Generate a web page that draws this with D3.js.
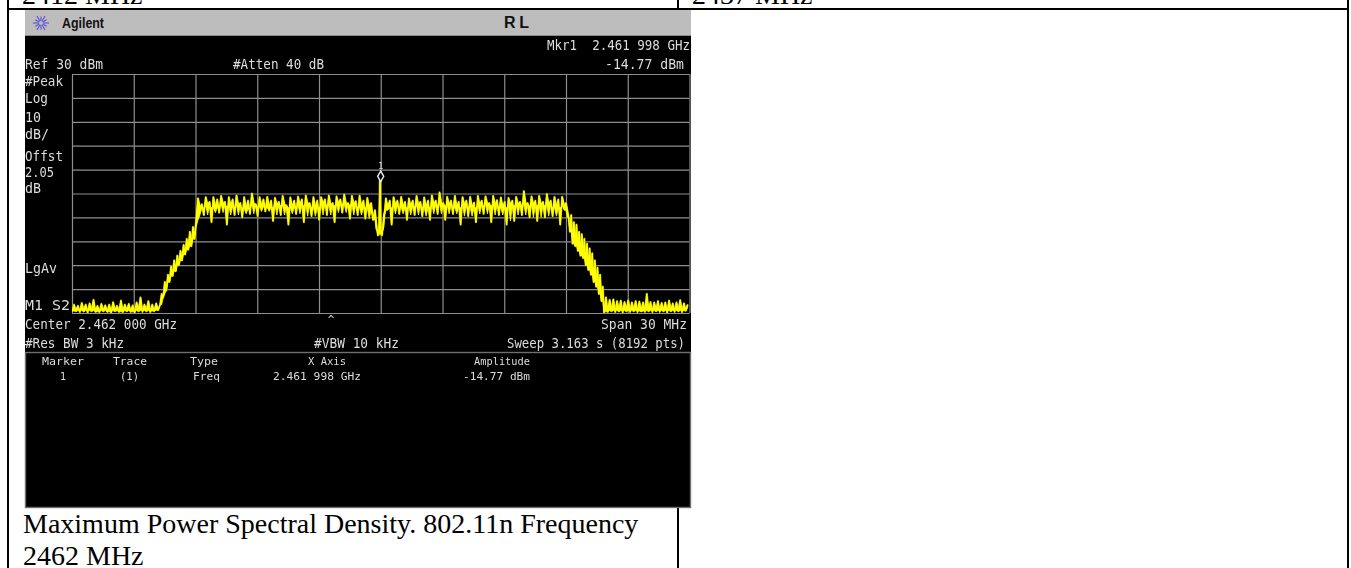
<!DOCTYPE html>
<html>
<head>
<meta charset="utf-8">
<script src="https://cdn.jsdelivr.net/npm/d3@7"></script>
<style>
html,body{margin:0;padding:0;background:#fff;overflow:hidden}
svg{display:block}
.m{font-family:"DejaVu Sans Mono",monospace;fill:#dcdcdc;filter:blur(0.25px)}
.c{font-family:"Liberation Serif",serif;fill:#000}
</style>
</head>
<body>
<script>
const freqTicks=[2447,2450,2453,2456,2459,2462,2465,2468,2471,2474,2477];
const dbTicks=[30,20,10,0,-10,-20,-30,-40,-50,-60,-70];
const markerFreq=2461.998, markerLevel=-12.8;

const floorLeft=[-69.5,-66.5,-69,-67,-69.6,-65.8,-69,-66.5,-69.8,-66,-69,-64.5,-69.5,-67,-69.6,-66.2,-69,-66.8,-69.5,-66.5,-69.8,-65.5,-69,-67,-69.5,-64.8,-69.6,-66.5,-69,-66.2,-69.5,-66.8,-69.8,-65.6,-69,-63.5,-69.5,-66.5,-69,-65,-69.6,-66.5,-69.2,-66,-68.8];
const skirtLeft=[-66.5,-62,-63.5,-57,-60.5,-54,-57,-50.5,-54.5,-48,-52.5,-46,-50,-44,-48,-41.5,-45.5,-39,-43.5,-36,-42,-34,-39];
const plateauLeft=[-31,-22,-26,-24.5,-29,-21.5,-25,-23.5,-32,-21.5,-26,-22.5,-28,-21,-24.5,-23.5,-33,-21.5,-25.5,-22.5,-29,-20.8,-25,-24,-30,-21.5,-26.5,-23,-28.5,-20,-24.5,-24.5,-29.5,-21.5,-25.5,-22.5,-27.5,-21.4,-26,-23,-31.5,-21.8,-25,-23.5,-29,-21,-24.8,-25,-33,-21.6,-26,-23,-28.5,-21.3,-25,-22.5,-32,-20.8,-24.5,-24,-29.5,-21.5,-26,-23,-31,-21.5,-24.5,-22.5,-29,-20.8,-25,-24,-32,-21.2,-24.5,-22.5,-28,-20.4,-24.5,-24,-30.5,-21,-24.8,-23.2,-29,-20.9,-26,-23,-30.5,-21.8,-26,-24,-31];
const notch=[-27,-31,-35,-37.5,-35.5,-13,-35.5,-37.5,-34,-29,-27];
const plateauRight=[-22,-26,-23,-33,-21.5,-25,-23,-28.5,-21.4,-26,-23.5,-31,-22,-25.5,-23,-29,-21,-25,-23.5,-29.5,-21.6,-26,-23,-31,-20.8,-24.8,-23,-28.5,-19.5,-24.5,-24,-31,-21.4,-25,-23,-28.5,-21,-26,-23.5,-33,-21.5,-25,-23,-29.5,-21.4,-26,-23.8,-32,-21,-25,-23,-28.5,-21.2,-24.6,-24,-32,-21,-25,-22.8,-29,-21.6,-26,-23.5,-33,-21.8,-25,-23,-31.5,-21.4,-24.8,-23.5,-29,-19,-24.5,-24,-30,-21.2,-25,-23,-31.5,-21,-25,-23.5,-30,-20.2,-25,-23,-29.5,-21.4,-26,-22.5,-33,-21.4,-25];
const skirtRight=[-24,-27,-30,-36,-29,-41,-32,-42,-33,-44,-36,-46,-37,-47,-39,-50,-41,-52,-43,-54,-45,-57,-48,-59,-51,-62,-54,-65,-59];
const floorRight=[-69.8,-63.5,-69.5,-64.5,-69,-64.3,-69.6,-65,-69,-64.8,-69.8,-65.4,-69,-64.6,-69.5,-65.6,-69,-65,-69.6,-65.2,-69.2,-65.6,-69.5,-62,-69,-65.4,-69.6,-65.6,-69,-65,-69.5,-65.8,-69,-65.6,-69.8,-64.8,-69,-66,-69.5,-65.6,-69,-64.6,-69.6,-66,-69,-66.5];
const traceSegments=[floorLeft,skirtLeft,plateauLeft,notch,plateauRight,skirtRight,floorRight];
const segmentEdges=[2447,2451.28,2453.03,2461.72,2462.25,2471.0,2472.85,2477];

const headerLabels=["Agilent","R L"];
const screenLabels=["Mkr1  2.461 998 GHz","-14.77 dBm","Ref 30 dBm","#Atten 40 dB","#Peak","Log","10","dB/","Offst","2.05","dB","LgAv","M1 S2","Center 2.462 000 GHz","Span 30 MHz","#Res BW 3 kHz","#VBW 10 kHz","Sweep 3.163 s (8192 pts)"];
const screenX=[547,605,25,233,25,25,25,25,25,25,25,25,25,25,601,25,314,507];
const screenEnd=[690,684,103,324,63,48,41,49,63,54,41,57,70,177,687,124,399,685];
const screenBase=[50,69,69,69,86,103,122,139,161,177,193,273,310,329,329,348,348,348];
const tableLabels=["Marker","Trace","Type","X Axis","Amplitude","1","(1)","Freq","2.461 998 GHz","-14.77 dBm"];
const tableX=[42,113,190,308,474,60,120,193,273,463];
const tableEnd=[84,147,218,346,530,66,139,220,361,530];
const tableBase=[365,365,365,365,365,380,380,380,380,380];
const captionLines=["Maximum Power Spectral Density. 802.11n Frequency","2462 MHz"];
const clippedCells=["2412 MHz","2437 MHz"];

const W=1351,H=568;
const svg=d3.select("body").append("svg").attr("width",W).attr("height",H);
svg.append("rect").attr("width",W).attr("height",H).attr("fill","#fff");

const x=d3.scaleLinear().domain([2447,2477]).range([72,689.5]);
const y=d3.scaleLinear().domain([30,-70]).range([74,313]);

svg.append("g").selectAll("text").data(clippedCells).join("text").attr("class","c")
  .attr("x",(d,i)=>i?692:22).attr("y",4).attr("font-size",28).text(d=>d);
const tbl=svg.append("g").attr("stroke","#000").attr("stroke-width",2);
tbl.append("line").attr("x1",7).attr("x2",1349).attr("y1",9).attr("y2",9);
tbl.append("line").attr("x1",8).attr("x2",8).attr("y1",0).attr("y2",H);
tbl.append("line").attr("x1",678).attr("x2",678).attr("y1",0).attr("y2",9);
tbl.append("line").attr("x1",678).attr("x2",678).attr("y1",508).attr("y2",H);
tbl.append("line").attr("x1",1348).attr("x2",1348).attr("y1",0).attr("y2",H);

svg.append("rect").attr("x",25).attr("y",10).attr("width",666).attr("height",498).attr("fill","#000");
svg.append("rect").attr("x",25).attr("y",10).attr("width",666).attr("height",25).attr("fill","#bdbdbd");
svg.append("line").attr("x1",25).attr("x2",691).attr("y1",35.5).attr("y2",35.5).attr("stroke","#8a8a8a");
svg.append("rect").attr("x",25.5).attr("y",352.5).attr("width",665).attr("height",155).attr("fill","none").attr("stroke","#6f6f6f").attr("stroke-width",1.4);

const spark=svg.append("g").attr("transform","translate(41,23)").attr("stroke","#5a50d8").attr("stroke-width",1.1);
d3.range(0,180,30).forEach(a=>{
  const r=a%60===0?8:6.5, t=a*Math.PI/180;
  spark.append("line").attr("x1",-r*Math.cos(t)).attr("y1",-r*Math.sin(t)).attr("x2",r*Math.cos(t)).attr("y2",r*Math.sin(t));
});
svg.append("circle").attr("cx",41).attr("cy",23).attr("r",2).attr("fill","#bdbdbd");

svg.append("text").attr("x",62).attr("y",28).attr("font-family","Liberation Sans").attr("font-weight","bold").attr("font-size",15).attr("fill","#111")
  .attr("textLength",42).attr("lengthAdjust","spacingAndGlyphs").text(headerLabels[0]);
svg.append("text").attr("x",504).attr("y",28).attr("font-family","Liberation Sans").attr("font-weight","bold").attr("font-size",16).attr("fill","#111")
  .attr("textLength",25).attr("lengthAdjust","spacing").text(headerLabels[1]);

const gridX=d3.axisBottom(x).tickValues(freqTicks).tickSize(-(y(-70)-y(30))).tickFormat("");
const gridY=d3.axisLeft(y).tickValues(dbTicks).tickSize(-(x(2477)-x(2447))).tickFormat("");
const gx=svg.append("g").attr("transform",`translate(0,${y(-70)})`).call(gridX);
const gy=svg.append("g").attr("transform",`translate(${x(2447)},0)`).call(gridY);
[gx,gy].forEach(g=>{
  g.select(".domain").remove();
  g.selectAll("line").attr("stroke","#8e8e8e").attr("stroke-width",1.2);
});

svg.append("clipPath").attr("id","plot").append("rect").attr("x",x(2447)).attr("y",y(30)).attr("width",x(2477)-x(2447)+2).attr("height",y(-70)-y(30));
const pts=[];
traceSegments.forEach((vals,s)=>{
  const f=d3.scaleLinear().domain([0,vals.length]).range([segmentEdges[s],segmentEdges[s+1]]);
  vals.forEach((v,i)=>pts.push([f(i),v]));
});
const body=pts.map((p,i)=>d3.quantile(pts.slice(Math.max(0,i-2),i+3).map(d=>d[1]).sort(d3.ascending),0.25));
const line=d3.line().x(d=>x(d[0])).y(d=>y(d[1]));
const band=d3.area().x(d=>x(d[0])).y1(d=>y(d[1])).y0((d,i)=>y(body[i]));
const tg=svg.append("g").attr("clip-path","url(#plot)");
tg.append("path").datum(pts).attr("d",line).attr("fill","none").attr("stroke","#8f8a10").attr("stroke-width",2.2).attr("stroke-linejoin","round");
tg.append("path").datum(pts).attr("d",band).attr("fill","#ffff00").attr("stroke","#ffff00").attr("stroke-width",0.8).attr("stroke-linejoin","round");
tg.append("path").datum(pts).attr("d",line).attr("fill","none").attr("stroke","#ffff00").attr("stroke-width",1.3).attr("stroke-linejoin","round");

const mx=x(markerFreq),my=y(markerLevel);
svg.append("path").attr("d",d3.symbol(d3.symbolDiamond,32)()).attr("transform",`translate(${mx},${my})`).attr("fill","#000").attr("stroke","#eee").attr("stroke-width",1.4);
svg.append("text").attr("class","m").attr("x",mx).attr("y",my-7).attr("text-anchor","middle").attr("font-size",9).text("1");
svg.append("text").attr("class","m").attr("x",331).attr("y",323).attr("text-anchor","middle").attr("font-size",11).text("^");

function fit(labels,xs,ends,bases,size){
  svg.append("g").selectAll("text").data(labels).join("text").attr("class","m")
    .style("white-space","pre")
    .attr("x",(d,i)=>xs[i]).attr("y",(d,i)=>bases[i]).attr("font-size",size)
    .attr("textLength",(d,i)=>ends[i]-xs[i]).attr("lengthAdjust","spacingAndGlyphs").text(d=>d);
}
fit(screenLabels,screenX,screenEnd,screenBase,14);
fit(tableLabels,tableX,tableEnd,tableBase,11);

svg.append("g").selectAll("text").data(captionLines).join("text").attr("class","c")
  .attr("x",23).attr("y",(d,i)=>i?565:533).attr("font-size",28).text(d=>d);
</script>
</body>
</html>
